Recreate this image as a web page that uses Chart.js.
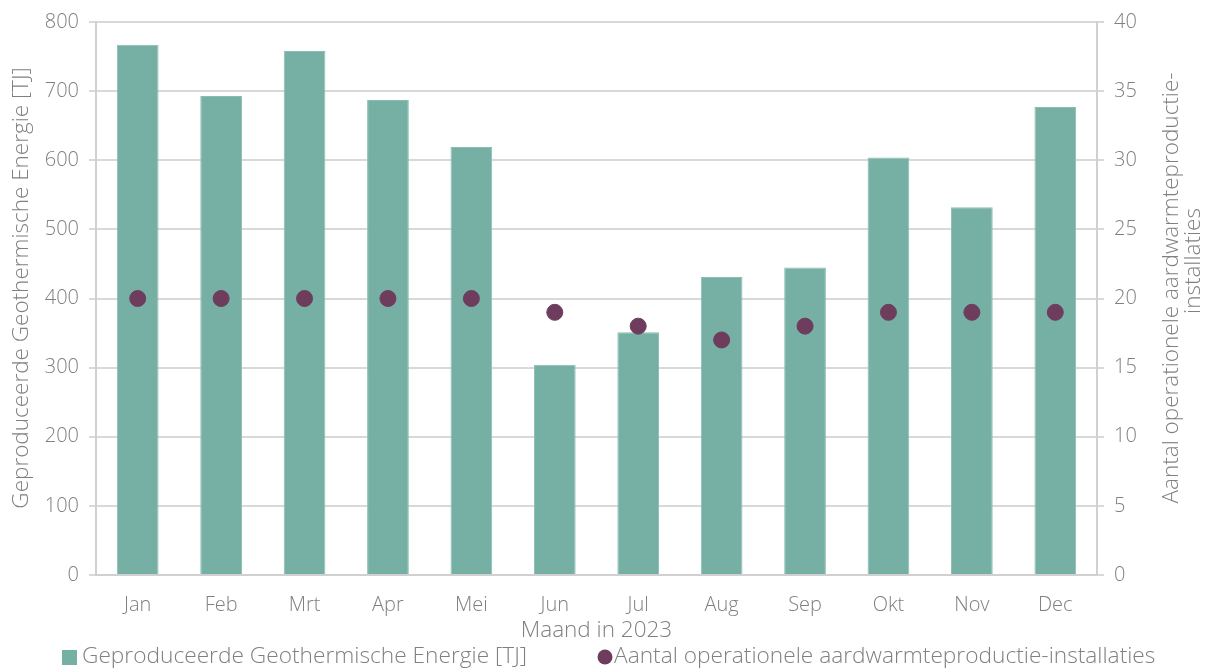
<!DOCTYPE html>
<html>
<head>
<meta charset="utf-8">
<script src="https://cdn.jsdelivr.net/npm/chart.js@4/dist/chart.umd.min.js"></script>
<style>
html,body{margin:0;padding:0;background:#fff;}
#wrap{width:1212px;height:672px;position:relative;}
</style>
</head>
<body>
<div id="wrap"><canvas id="c" width="1212" height="672"></canvas></div>
<script>
const categories = ['Jan','Feb','Mrt','Apr','Mei','Jun','Jul','Aug','Sep','Okt','Nov','Dec'];
const energyTJ = [767, 693, 758, 687, 619, 304, 351, 431, 445, 604, 532, 677];
const installations = [20, 20, 20, 20, 20, 19, 18, 17, 18, 19, 19, 19];
const leftTicks = [0, 100, 200, 300, 400, 500, 600, 700, 800];
const rightTicks = [0, 5, 10, 15, 20, 25, 30, 35, 40];
const xTitle = 'Maand in 2023';
const leftTitle = 'Geproduceerde Geothermische Energie [TJ]';
const rightTitle = ['Aantal operationele aardwarmteproductie-', 'installaties'];

const FONT = '"Open Sans", Lato, sans-serif';
const GREY = '#808080';
const TEAL = '#76afa4';
const PLUM = '#6e3d5e';

const textPlugin = {
  id: 'textPlugin',
  afterDraw(chart) {
    const ctx = chart.ctx;
    const ca = chart.chartArea;
    const midY = 288;
    ctx.save();
    ctx.fillStyle = GREY;
    ctx.font = '300 22.5px ' + FONT;
    ctx.textAlign = 'center';
    ctx.textBaseline = 'middle';
    // left title
    ctx.save();
    ctx.translate(22, midY);
    ctx.rotate(-Math.PI / 2);
    ctx.fillText(leftTitle, 0, 0);
    ctx.restore();
    // right title (two lines, rotated like the left one)
    ctx.save();
    ctx.translate(1172, midY);
    ctx.rotate(-Math.PI / 2);
    ctx.fillText(rightTitle[0], 0, 0);
    ctx.restore();
    ctx.save();
    ctx.translate(1194, 261);
    ctx.rotate(-Math.PI / 2);
    ctx.fillText(rightTitle[1], 0, 0);
    ctx.restore();
    // x title
    ctx.fillText(xTitle, (ca.left + ca.right) / 2, 631);
    // legend
    const ds = chart.data.datasets;
    ctx.textAlign = 'left';
    ctx.font = '300 22.7px ' + FONT;
    const ly = 657;
    ctx.fillStyle = ds[0].backgroundColor;
    ctx.fillRect(62, ly - 7, 15, 15);
    ctx.fillStyle = GREY;
    ctx.fillText(ds[0].label, 82, ly);
    ctx.fillStyle = ds[1].pointBackgroundColor;
    ctx.beginPath();
    ctx.arc(605, ly, 7.5, 0, Math.PI * 2);
    ctx.fill();
    ctx.fillStyle = GREY;
    ctx.fillText(ds[1].label, 614, ly);
    ctx.restore();
  }
};

new Chart(document.getElementById('c'), {
  data: {
    labels: categories,
    datasets: [
      {
        type: 'bar',
        label: 'Geproduceerde Geothermische Energie [TJ]',
        data: energyTJ,
        backgroundColor: TEAL,
        borderColor: '#8cbdb3',
        borderWidth: 1,
        yAxisID: 'y',
        barPercentage: 0.5,
        categoryPercentage: 1.0,
        order: 2
      },
      {
        type: 'line',
        label: 'Aantal operationele aardwarmteproductie-installaties',
        data: installations,
        showLine: false,
        pointRadius: 8,
        pointHoverRadius: 8,
        pointBackgroundColor: PLUM,
        pointBorderColor: PLUM,
        backgroundColor: PLUM,
        borderColor: PLUM,
        yAxisID: 'y1',
        order: 1
      }
    ]
  },
  options: {
    responsive: false,
    animation: false,
    layout: { padding: { top: 3, left: 0, right: 0, bottom: 52 } },
    plugins: {
      tooltip: { enabled: false },
      legend: { display: false }
    },
    scales: {
      x: {
        grid: { display: false },
        border: { display: true, color: '#d0d0d0', width: 2 },
        ticks: { color: GREY, font: { family: FONT, size: 20, weight: '300' }, padding: 10 },
        afterFit(s) { s.height = 45; }
      },
      y: {
        position: 'left',
        min: 0, max: 800,
        afterBuildTicks(s) { s.ticks = leftTicks.map(v => ({ value: v })); },
        afterFit(s) { s.width = 96; },
        grid: { color: '#d9d9d9', lineWidth: 2, tickLength: 7, drawOnChartArea: true },
        border: { display: true, color: '#d0d0d0', width: 2 },
        ticks: { color: GREY, font: { family: FONT, size: 20, weight: '300' }, padding: 10 }
      },
      y1: {
        position: 'right',
        min: 0, max: 40,
        afterBuildTicks(s) { s.ticks = rightTicks.map(v => ({ value: v })); },
        afterFit(s) { s.width = 115; },
        grid: { drawOnChartArea: false, color: '#d9d9d9', lineWidth: 2, tickLength: 7 },
        border: { display: true, color: '#d0d0d0', width: 2 },
        ticks: { color: GREY, font: { family: FONT, size: 20, weight: '300' }, padding: 10 }
      }
    }
  },
  plugins: [textPlugin]
});
</script>
</body>
</html>
